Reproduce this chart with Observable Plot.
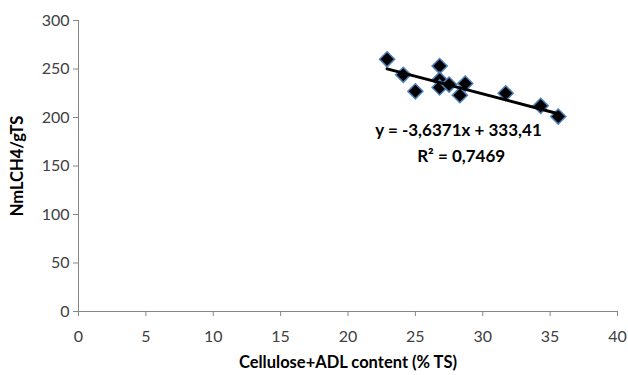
<!DOCTYPE html>
<html>
<head>
<meta charset="utf-8">
<script src="https://cdn.jsdelivr.net/npm/d3@7"></script>
<script src="https://cdn.jsdelivr.net/npm/@observablehq/plot@0.6"></script>
<style>
  html, body { margin: 0; padding: 0; background: #fff; }
  #chart { width: 628px; height: 375px; }
</style>
</head>
<body>
<div id="chart"></div>
<script>
const celluloseADL = [22.9, 24.1, 25.0, 26.8, 26.8, 26.8, 27.5, 28.3, 28.7, 31.7, 34.3, 35.6];
const methaneYield = [260, 244, 227, 253, 239, 231, 234, 223, 235, 225, 212, 201];
const slope = -3.6371;
const intercept = 333.41;
const equationLabel = "y = -3,6371x + 333,41";
const r2Label = "R² = 0,7469";
const xTicks = [0, 5, 10, 15, 20, 25, 30, 35, 40];
const yTicks = [0, 50, 100, 150, 200, 250, 300];

const points = celluloseADL.map((x, i) => ({x, y: methaneYield[i]}));
const xr = d3.extent(celluloseADL);
const trend = xr.map(x => ({x, y: intercept + slope * x}));

const font = "Lato, 'Open Sans', sans-serif";
const axisColor = "#868686";

const chart = Plot.plot({
  width: 628,
  height: 375,
  marginLeft: 78,
  marginRight: 11,
  marginTop: 20,
  marginBottom: 64,
  style: {fontFamily: font, fontSize: "16px", color: "#404040", background: "#fff"},
  x: {domain: [0, 40], ticks: xTicks},
  y: {domain: [0, 300], ticks: yTicks},
  marks: [
    Plot.ruleY([0], {stroke: axisColor, strokeWidth: 1}),
    Plot.ruleX([0], {stroke: axisColor, strokeWidth: 1}),
    Plot.axisX({ticks: xTicks, tickSize: 5, stroke: axisColor, tickPadding: 14, label: null, fill: "#404040", fontSize: 16}),
    Plot.axisY({ticks: yTicks, tickSize: 5, stroke: axisColor, tickPadding: 4, label: null, fill: "#404040", fontSize: 16}),
    Plot.text(["Cellulose+ADL content (% TS)"], {frameAnchor: "bottom", dy: 51, lineAnchor: "middle", fontWeight: "bold", fontSize: 16.5, fill: "#000", textAnchor: "middle"}),
    Plot.text(["NmLCH4/gTS"], {frameAnchor: "left", dx: -61, rotate: -90, fontWeight: "bold", fontSize: 16.5, fill: "#000", textAnchor: "middle"}),
    Plot.dot(points, {x: "x", y: "y", symbol: "diamond2", r: 6.8, fill: "#000", stroke: "#4f81bd", strokeWidth: 1.5}),
    Plot.line(trend, {x: "x", y: "y", stroke: "#000", strokeWidth: 3}),
    Plot.text([equationLabel], {x: 28.2, y: 187, fontWeight: "bold", fontSize: 17, fill: "#000"}),
    Plot.text([r2Label], {x: 28.4, y: 160, fontWeight: "bold", fontSize: 17, fill: "#000"})
  ]
});
document.getElementById("chart").appendChild(chart);
</script>
</body>
</html>
